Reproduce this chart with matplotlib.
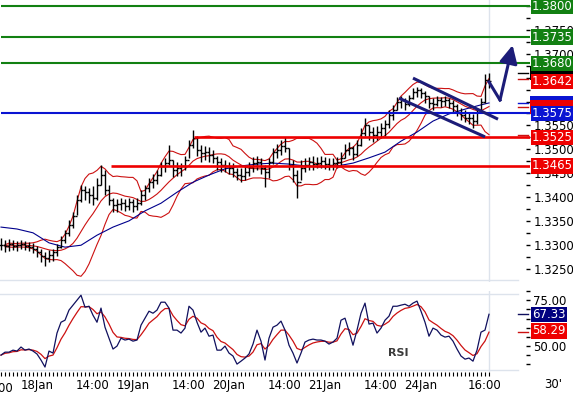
import numpy as np
import pandas as pd
import matplotlib
matplotlib.use('Agg')
import matplotlib.pyplot as plt
from matplotlib.patches import Rectangle

# hourly bars (17 Jan 15:00 -> 24 Jan 16:00)
high = [1.3314, 1.3310, 1.3312, 1.3310, 1.3308, 1.3310, 1.3308, 1.3306, 1.3304, 1.3297,
        1.3291, 1.3285, 1.3289, 1.3291, 1.3302, 1.3318, 1.3331, 1.3352, 1.3369, 1.3404,
        1.3425, 1.3423, 1.3419, 1.3423, 1.3440, 1.3467, 1.3457, 1.3425, 1.3398, 1.3396,
        1.3398, 1.3396, 1.3398, 1.3396, 1.3398, 1.3415, 1.3425, 1.3440, 1.3448, 1.3457,
        1.3473, 1.3482, 1.3509, 1.3477, 1.3473, 1.3471, 1.3486, 1.3519, 1.3540, 1.3528,
        1.3509, 1.3507, 1.3505, 1.3498, 1.3486, 1.3482, 1.3477, 1.3473, 1.3471, 1.3461,
        1.3461, 1.3465, 1.3473, 1.3484, 1.3486, 1.3482, 1.3467, 1.3482, 1.3503, 1.3511,
        1.3519, 1.3526, 1.3503, 1.3477, 1.3457, 1.3477, 1.3482, 1.3484, 1.3486, 1.3484,
        1.3486, 1.3484, 1.3482, 1.3482, 1.3484, 1.3494, 1.3511, 1.3515, 1.3507, 1.3519,
        1.3545, 1.3565, 1.3551, 1.3547, 1.3549, 1.3555, 1.3561, 1.3582, 1.3593, 1.3609,
        1.3612, 1.3607, 1.3614, 1.3628, 1.3630, 1.3628, 1.3622, 1.3612, 1.3607, 1.3612,
        1.3609, 1.3612, 1.3607, 1.3603, 1.3595, 1.3586, 1.3582, 1.3578, 1.3574, 1.3582,
        1.3607, 1.3658, 1.3660]
low = [1.3289, 1.3285, 1.3287, 1.3289, 1.3287, 1.3291, 1.3289, 1.3287, 1.3283, 1.3274,
       1.3264, 1.3255, 1.3264, 1.3266, 1.3276, 1.3293, 1.3304, 1.3318, 1.3335, 1.3362,
       1.3390, 1.3394, 1.3387, 1.3383, 1.3394, 1.3425, 1.3404, 1.3383, 1.3369, 1.3369,
       1.3373, 1.3371, 1.3373, 1.3369, 1.3373, 1.3383, 1.3394, 1.3410, 1.3419, 1.3427,
       1.3444, 1.3452, 1.3467, 1.3442, 1.3444, 1.3444, 1.3457, 1.3482, 1.3503, 1.3486,
       1.3473, 1.3477, 1.3473, 1.3471, 1.3457, 1.3452, 1.3452, 1.3448, 1.3442, 1.3436,
       1.3431, 1.3436, 1.3444, 1.3452, 1.3457, 1.3448, 1.3421, 1.3440, 1.3469, 1.3482,
       1.3488, 1.3494, 1.3457, 1.3431, 1.3398, 1.3436, 1.3452, 1.3457, 1.3457, 1.3461,
       1.3461, 1.3459, 1.3457, 1.3457, 1.3461, 1.3465, 1.3482, 1.3488, 1.3477, 1.3486,
       1.3507, 1.3528, 1.3519, 1.3515, 1.3519, 1.3524, 1.3528, 1.3545, 1.3561, 1.3582,
       1.3586, 1.3582, 1.3591, 1.3605, 1.3609, 1.3607, 1.3597, 1.3586, 1.3582, 1.3591,
       1.3588, 1.3591, 1.3586, 1.3578, 1.3570, 1.3561, 1.3557, 1.3553, 1.3545, 1.3553,
       1.3578, 1.3597, 1.3628]
close = [1.3299, 1.3297, 1.3302, 1.3297, 1.3299, 1.3302, 1.3297, 1.3295, 1.3291, 1.3285,
         1.3276, 1.3272, 1.3279, 1.3285, 1.3295, 1.3310, 1.3325, 1.3341, 1.3360, 1.3394,
         1.3415, 1.3410, 1.3404, 1.3398, 1.3425, 1.3446, 1.3415, 1.3394, 1.3383, 1.3385,
         1.3387, 1.3381, 1.3390, 1.3381, 1.3387, 1.3404, 1.3419, 1.3431, 1.3436, 1.3446,
         1.3465, 1.3471, 1.3477, 1.3457, 1.3461, 1.3465, 1.3477, 1.3509, 1.3524, 1.3498,
         1.3492, 1.3494, 1.3488, 1.3482, 1.3473, 1.3467, 1.3465, 1.3461, 1.3452, 1.3446,
         1.3444, 1.3452, 1.3463, 1.3471, 1.3473, 1.3461, 1.3452, 1.3473, 1.3494, 1.3498,
         1.3507, 1.3503, 1.3467, 1.3446, 1.3431, 1.3461, 1.3467, 1.3473, 1.3469, 1.3471,
         1.3475, 1.3469, 1.3467, 1.3471, 1.3473, 1.3482, 1.3498, 1.3503, 1.3490, 1.3509,
         1.3534, 1.3551, 1.3536, 1.3530, 1.3536, 1.3545, 1.3553, 1.3572, 1.3582, 1.3599,
         1.3603, 1.3595, 1.3607, 1.3620, 1.3624, 1.3618, 1.3612, 1.3597, 1.3595, 1.3603,
         1.3601, 1.3603, 1.3597, 1.3591, 1.3578, 1.3572, 1.3565, 1.3565, 1.3559, 1.3578,
         1.3599, 1.3645, 1.3642]
rsi = [45.1, 46.7, 46.7, 47.8, 47.3, 49.5, 47.8, 48.4, 47.3, 45.7,
       42.4, 38.6, 47.3, 46.2, 57.1, 63.0, 64.1, 69.6, 72.3, 75.0,
       77.7, 71.2, 71.7, 66.8, 63.0, 70.7, 60.3, 54.3, 48.4, 50.0,
       54.3, 53.3, 53.8, 52.7, 53.3, 61.4, 65.2, 69.0, 67.9, 69.6,
       73.9, 73.9, 70.7, 58.7, 58.7, 57.1, 59.8, 71.7, 69.6, 63.0,
       57.6, 59.8, 55.4, 56.0, 47.8, 47.8, 50.0, 46.2, 44.6, 40.2,
       41.8, 43.5, 45.7, 51.1, 58.7, 52.7, 42.4, 54.3, 60.3, 61.4,
       63.6, 58.7, 50.5, 46.2, 40.8, 46.2, 52.2, 53.3, 53.8, 53.3,
       53.3, 52.7, 51.1, 52.2, 54.3, 64.1, 65.2, 58.2, 50.5, 58.7,
       67.9, 73.4, 62.0, 62.5, 57.1, 59.8, 64.1, 66.3, 71.7, 71.7,
       72.3, 72.8, 71.7, 73.4, 74.5, 69.0, 63.0, 55.4, 59.8, 58.7,
       56.0, 54.9, 55.4, 52.7, 48.4, 44.6, 42.9, 43.5, 41.8, 47.8,
       57.6, 58.7, 67.33]

# long moving average (blue), read every 4 bars
ma_idx = list(range(0, 121, 4)) + [122]
ma_val = [1.3337, 1.3333, 1.3325, 1.3304, 1.3295, 1.3299, 1.3320, 1.3337, 1.3350, 1.3371,
          1.3387, 1.3410, 1.3431, 1.3446, 1.3459, 1.3465, 1.3469, 1.3471, 1.3469, 1.3465,
          1.3463, 1.3465, 1.3471, 1.3482, 1.3494, 1.3517, 1.3536, 1.3559, 1.3574, 1.3584,
          1.3593, 1.3597]

tick_pos = [9, 23, 33, 47, 57, 71, 81, 95, 105, 121]
tick_lab = ['18Jan', '14:00', '19Jan', '14:00', '20Jan', '14:00', '21Jan', '14:00', '24Jan', '16:00']

levels = [1.3800, 1.3735, 1.3680, 1.3575, 1.3525, 1.3465]
level_col = ['#128012', '#128012', '#128012', '#0a14d2', '#ee0000', '#ee0000']
level_from = [0, 0, 0, 0, 48.2, 27.5]
last_price = 1.3642
rsi_ma_last = 58.29

chan_up = ([103, 124.25], [1.3649, 1.3563])
chan_dn = ([99.5, 121], [1.3607, 1.3526])
arrow_x = [122, 124.75, 127.9]
arrow_y = [1.3641, 1.3603, 1.3718]

navy = '#1c1c78'
grid = '#dde3ec'

n = len(close)
x = np.arange(n)
s = pd.Series(close)
mid = s.rolling(10, min_periods=2).mean()
sd = s.rolling(10, min_periods=2).std(ddof=0)
upper = mid + 2 * sd
lower = mid - 2 * sd
rsi_ma = pd.Series(rsi).ewm(span=5).mean()
opens = [close[0]] + close[:-1]

fig = plt.figure(figsize=(5.73, 3.95), dpi=100)
ax = fig.add_axes([0, 1 - 282 / 395, 530 / 573, 282 / 395])
ax2 = fig.add_axes([0, 1 - 372 / 395, 530 / 573, 81 / 395])

for a in (ax, ax2):
    a.set_xlim(-0.25, 132.25)
    for sp in a.spines.values():
        sp.set_visible(False)
    a.axvline(122, color=grid, lw=1, zorder=0)
    a.yaxis.tick_right()

# ---- price panel
ax.set_ylim(1.3222, 1.38126)
ax.axhline(1.32262, xmax=518 / 530, color=grid, lw=1, zorder=0)
ax.plot(x, upper, color='#cc1111', lw=0.8, zorder=2)
ax.plot(x, lower, color='#cc1111', lw=0.8, zorder=2)
ax.plot(x, mid, color='#cc1111', lw=0.8, zorder=2)
ax.plot(ma_idx, ma_val, color='#00008c', lw=0.8, zorder=2)
ax.vlines(x, low, high, color='black', lw=1.0, zorder=2.2)
ax.hlines(close, x, x + 0.45, color='black', lw=1.0, zorder=2.2)
ax.hlines(opens, x - 0.45, x, color='black', lw=1.0, zorder=2.2)

for lv, c, x0 in zip(levels, level_col, level_from):
    lw = 1.9 if c == '#ee0000' else 1.5
    ax.hlines(lv, x0, 132.25, color=c, lw=lw, zorder=3)

ax.plot(*chan_up, color=navy, lw=2.2, solid_capstyle='butt', zorder=4)
ax.plot(*chan_dn, color=navy, lw=2.2, solid_capstyle='butt', zorder=4)
ax.plot(arrow_x[:2], arrow_y[:2], color=navy, lw=2.2, zorder=4)
ax.annotate('', xy=(arrow_x[2], arrow_y[2]), xytext=(arrow_x[1], arrow_y[1]),
            arrowprops=dict(arrowstyle='-|>,head_length=0.9,head_width=0.45', color=navy,
                            lw=2.2, mutation_scale=12, shrinkA=0, shrinkB=0), zorder=4)

hidden = ('1.3800', '1.3650', '1.3600')
ax.set_xticks([])
ax.set_yticks(np.arange(1.325, 1.3801, 0.005))
ax.set_yticks(np.arange(1.3275, 1.3780, 0.005), minor=True)
ax.yaxis.set_major_formatter(plt.FuncFormatter(lambda v, p: '' if '%.4f' % v in hidden else '%.4f' % v))
ax.tick_params(axis='y', which='both', direction='in', length=3, width=1, pad=2.5, labelsize=8.5)

ytr = ax.get_yaxis_transform()
markers = [(high[-1], 'black'), (upper.iloc[-1], '#cc1111'), (ma_val[-1], '#0a14d2'),
           (mid.iloc[-1], '#cc1111'), (lower.iloc[-1], '#cc1111')]
for val, c in markers:
    ax.plot([518 / 530, 528 / 530], [val, val], color=c, lw=1, transform=ytr, clip_on=False, zorder=3)


def tag(a, y, txt, fc, z):
    a.text(1.004, y, txt, transform=a.get_yaxis_transform(), color='white', fontsize=8.5,
           ha='left', va='center', zorder=z, clip_on=False,
           bbox=dict(boxstyle='square,pad=0.1', fc=fc, ec='none'))


# value boxes that sit almost fully under other boxes: only their edges show
box_h = 14 / 4775
for val, fc in [(high[-1], 'black'), (ma_val[-1], '#0a14d2'), (mid.iloc[-1], '#ee0000')]:
    ax.add_patch(Rectangle((1.0, val - box_h / 2), 43 / 530, box_h, transform=ytr,
                           fc=fc, ec='none', clip_on=False, zorder=5))

for lv, c in zip(levels, level_col):
    tag(ax, lv, '%.4f' % lv, c, 6)
tag(ax, last_price, '%.4f' % last_price, '#ee0000', 6)

# ---- RSI panel
ax2.set_ylim(35.9, 79.9)
ax2.axhline(78.26, xmax=518 / 530, color=grid, lw=1, zorder=0)
ax2.axhline(36.96, xmax=518 / 530, color=grid, lw=1, zorder=0)
ax2.plot(x, rsi_ma, color='#cc1111', lw=0.9, zorder=2)
ax2.plot(x, rsi, color='#10105e', lw=0.9, zorder=2.5)
ax2.text(99.3, 46.2, 'RSI', fontsize=8, fontweight='bold', color='#3a3a3a', ha='center', va='center')

ax2.set_yticks([50, 75])
ax2.set_yticks([40, 45, 55, 60, 65, 70, 80], minor=True)
ax2.yaxis.set_major_formatter(plt.FuncFormatter(lambda v, p: '%.2f' % v))
ax2.tick_params(axis='y', which='both', direction='in', length=3, width=1, pad=2.5, labelsize=8.5)

ytr2 = ax2.get_yaxis_transform()
ax2.plot([518 / 530, 528 / 530], [rsi[-1]] * 2, color='#10105e', lw=1, transform=ytr2, clip_on=False)
ax2.plot([518 / 530, 528 / 530], [rsi_ma.iloc[-1]] * 2, color='#cc1111', lw=1, transform=ytr2, clip_on=False)
tag(ax2, rsi[-1], '%.2f' % rsi[-1], '#000080', 6)
tag(ax2, rsi_ma_last, '%.2f' % rsi_ma_last, '#ee0000', 6)

ax2.set_xticks(tick_pos)
ax2.set_xticklabels(tick_lab)
ax2.set_xticks(x, minor=True)
ax2.tick_params(axis='x', which='both', direction='out', length=3, width=0.8, pad=2, labelsize=8.5)
ax2.annotate('14:00', xy=(-1, 0), xycoords=('data', 'axes fraction'), xytext=(0, -7.2),
             textcoords='offset points', ha='center', va='top', fontsize=8.5)

fig.text(553 / 573, 1 - 385 / 395, "30'", fontsize=8.5, ha='center', va='center')

fig.savefig('out.png', dpi=100)
